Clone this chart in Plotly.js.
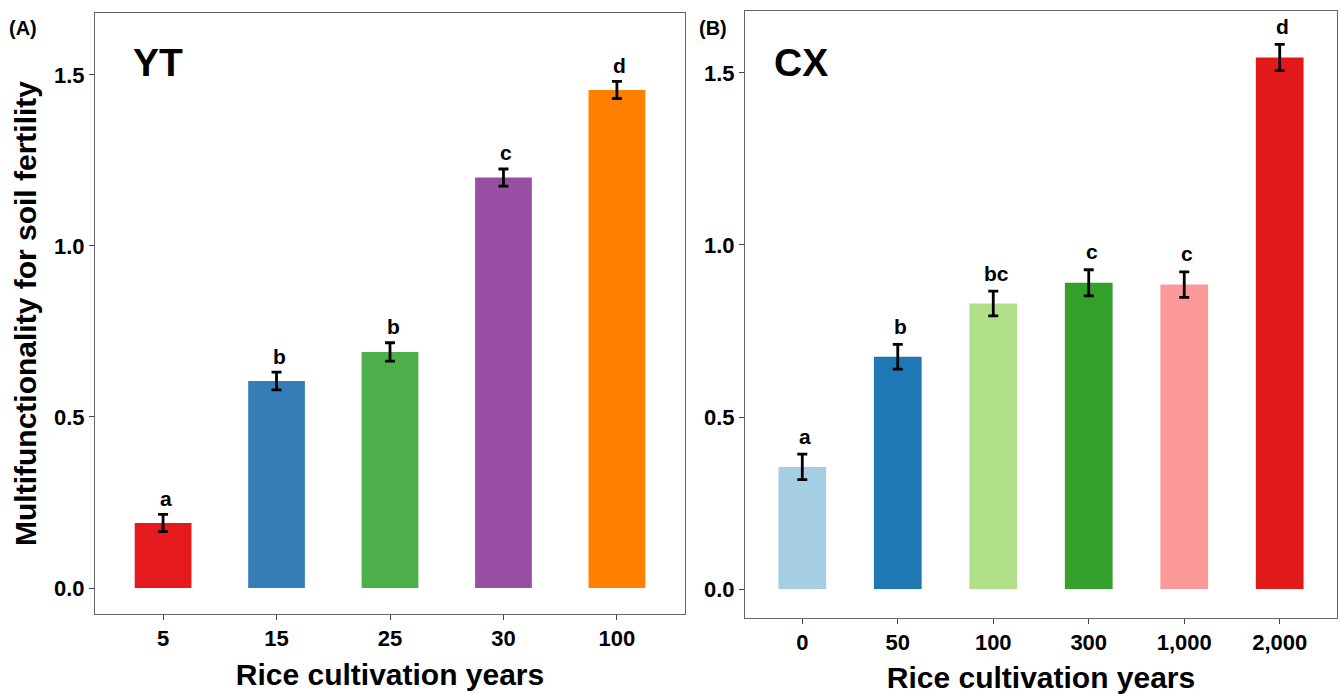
<!DOCTYPE html>
<html>
<head>
<meta charset="utf-8">
<script src="https://cdn.plot.ly/plotly-3.0.1.min.js"></script>
<style>html,body{margin:0;padding:0;background:#fff;}#chart{width:1341px;height:694px;}</style>
</head>
<body>
<div id="chart"></div>
<script>
// Panel A (YT)
const catsA = ["5", "15", "25", "30", "100"];
const valsA = [0.19, 0.605, 0.69, 1.20, 1.456];
const errA = [0.025, 0.026, 0.027, 0.025, 0.025];
const lettersA = ["a", "b", "b", "c", "d"];
const colorsA = ["#E41A1C", "#377EB8", "#4DAF4A", "#984EA3", "#FF7F00"];

// Panel B (CX)
const catsB = ["0", "50", "100", "300", "1,000", "2,000"];
const valsB = [0.355, 0.675, 0.83, 0.89, 0.885, 1.545];
const errB = [0.037, 0.036, 0.036, 0.038, 0.037, 0.038];
const lettersB = ["a", "b", "bc", "c", "c", "d"];
const colorsB = ["#A6CEE3", "#1F78B4", "#B2DF8A", "#33A02C", "#FB9A99", "#E31A1C"];

const yTicks = [0, 0.5, 1.0, 1.5];
const W = 1341, H = 694;
const FAM = "Liberation Sans, Arial, sans-serif";

const errStyle = {type: "data", visible: true, thickness: 2.8, width: 5, color: "#000"};

const traces = [
  {type: "bar", x: catsA, y: valsA, xaxis: "x", yaxis: "y", width: 0.5,
   marker: {color: colorsA}, error_y: Object.assign({array: errA}, errStyle), hoverinfo: "skip", showlegend: false},
  {type: "bar", x: catsB, y: valsB, xaxis: "x2", yaxis: "y2", width: 0.5,
   marker: {color: colorsB}, error_y: Object.assign({array: errB}, errStyle), hoverinfo: "skip", showlegend: false}
];

const tickFont = {family: FAM, size: 22, color: "#000", weight: 700};
const titleFont = {family: FAM, size: 30, color: "#000", weight: 700};

function xAx(domain, anchor, cats) {
  return {domain: domain, anchor: anchor, type: "category", categoryarray: cats,
    range: [-0.6, cats.length - 0.4], showline: true, mirror: true, linecolor: "#666", linewidth: 1,
    ticks: "outside", ticklen: 5, tickcolor: "#444", tickfont: tickFont, showgrid: false, zeroline: false,
    title: {text: "Rice cultivation years", font: titleFont, standoff: 13}, fixedrange: true};
}
function yAx(domain, anchor, range, title) {
  const a = {domain: domain, anchor: anchor, range: range, tickvals: yTicks, tickformat: ".1f",
    showline: true, mirror: true, linecolor: "#666", linewidth: 1,
    ticks: "outside", ticklen: 5, tickcolor: "#444", tickfont: tickFont, showgrid: false, zeroline: false, fixedrange: true};
  if (title) a.title = {text: title, font: titleFont, standoff: 8};
  return a;
}

const letterFont = {family: FAM, size: 21, color: "#000", weight: 700};
const annotations = [];
catsA.forEach((c, i) => annotations.push({xref: "x", yref: "y", x: i, y: valsA[i] + errA[i], text: lettersA[i],
  showarrow: false, yanchor: "middle", yshift: 16, xshift: 3, font: letterFont}));
catsB.forEach((c, i) => annotations.push({xref: "x2", yref: "y2", x: i, y: valsB[i] + errB[i], text: lettersB[i],
  showarrow: false, yanchor: "middle", yshift: 18, xshift: 3, font: letterFont}));
annotations.push({xref: "paper", yref: "paper", x: 131 / W, y: 1 - 62 / H, xanchor: "left", yanchor: "middle",
  text: "YT", showarrow: false, font: {family: FAM, size: 39, color: "#000", weight: 700}});
annotations.push({xref: "paper", yref: "paper", x: 772 / W, y: 1 - 62 / H, xanchor: "left", yanchor: "middle",
  text: "CX", showarrow: false, font: {family: FAM, size: 39, color: "#000", weight: 700}});
annotations.push({xref: "paper", yref: "paper", x: 7 / W, y: 1 - 28 / H, xanchor: "left", yanchor: "middle",
  text: "(A)", showarrow: false, font: {family: FAM, size: 20, color: "#000", weight: 700}});
annotations.push({xref: "paper", yref: "paper", x: 697 / W, y: 1 - 28 / H, xanchor: "left", yanchor: "middle",
  text: "(B)", showarrow: false, font: {family: FAM, size: 20, color: "#000", weight: 700}});

const layout = {
  width: W, height: H,
  margin: {l: 0, r: 0, t: 0, b: 0},
  paper_bgcolor: "#fff", plot_bgcolor: "#fff",
  bargap: 0.5,
  xaxis: xAx([95 / W, 685 / W], "y", catsA),
  yaxis: yAx([(H - 614) / H, (H - 13) / H], "x", [-0.076, 1.681], "Multifunctionality for soil fertility"),
  xaxis2: xAx([745 / W, 1337 / W], "y2", catsB),
  yaxis2: yAx([(H - 618) / H, (H - 11) / H], "x2", [-0.084, 1.68], null),
  annotations: annotations
};

Plotly.newPlot("chart", traces, layout, {displayModeBar: false, staticPlot: true});
</script>
</body>
</html>
